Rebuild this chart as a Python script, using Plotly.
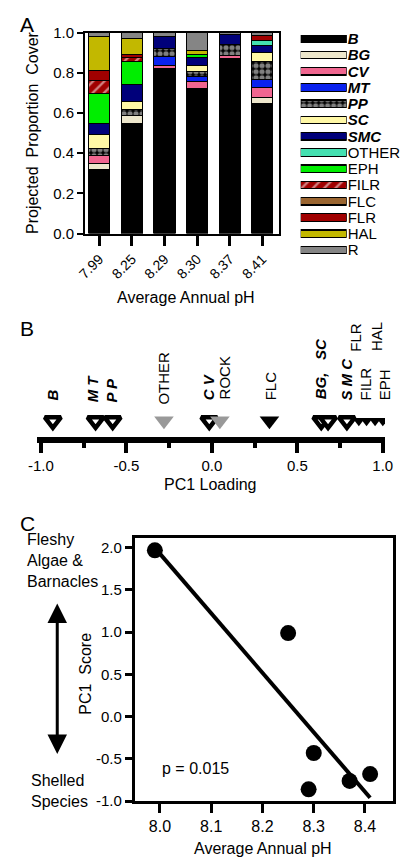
import plotly.graph_objects as go
import numpy as np

W, H = 408, 858
def px(x):
    return x / W
def py(y):
    return 1 - y / H

FONT = "Liberation Sans, Arial, Helvetica, sans-serif"

# ---------------- Panel A data ----------------
ph_labels = ["7.99", "8.25", "8.29", "8.30", "8.37", "8.41"]
species = ["B", "BG", "CV", "MT", "PP", "SC", "SMC", "OTHER", "EPH", "FILR", "FLC", "FLR", "HAL", "R"]
italic_species = ["B", "BG", "CV", "MT", "PP", "SC", "SMC"]

cover_B = [0.32, 0.55, 0.82, 0.72, 0.87, 0.65]
cover_BG = [0.03, 0.04, None, None, None, 0.026]
cover_CV = [0.04, None, 0.015, 0.038, 0.015, 0.051]
cover_MT = [None, None, 0.045, 0.022, None, 0.041]
cover_PP = [0.035, 0.03, 0.04, 0.027, 0.055, 0.09]
cover_SC = [0.07, 0.04, None, 0.031, None, 0.044]
cover_SMC = [0.055, 0.08, 0.06, 0.037, 0.05, 0.034]
cover_OTHER = [None, None, None, None, None, 0.024]
cover_EPH = [0.145, 0.115, None, 0.015, None, None]
cover_FILR = [0.065, 0.02, None, None, None, None]
cover_FLC = [None, None, None, None, None, None]
cover_FLR = [0.05, 0.015, None, None, None, 0.025]
cover_HAL = [0.17, 0.08, None, 0.02, None, None]
cover_R = [0.02, 0.03, 0.02, 0.09, 0.01, 0.015]

cover = {
    "B": cover_B, "BG": cover_BG, "CV": cover_CV, "MT": cover_MT, "PP": cover_PP,
    "SC": cover_SC, "SMC": cover_SMC, "OTHER": cover_OTHER, "EPH": cover_EPH,
    "FILR": cover_FILR, "FLC": cover_FLC, "FLR": cover_FLR, "HAL": cover_HAL, "R": cover_R,
}

# ---------------- Panel B data ----------------
load_open_names = ["B", "MT", "PP", "CV", "BG", "SC", "SMC"]
load_open_vals = [-0.93, -0.68, -0.58, -0.015, 0.64, 0.68, 0.79]
load_gray_names = ["OTHER", "ROCK"]
load_gray_vals = [-0.28, 0.047]
load_black_names = ["FLC"]
load_black_vals = [0.337]
load_small_names = ["FLR", "FILR", "HAL", "EPH"]
load_small_vals = [0.86, 0.905, 0.955, 1.0]

# ---------------- Panel C data ----------------
ph_values = [7.99, 8.25, 8.29, 8.30, 8.37, 8.41]
pc1_scores = [1.97, 0.99, -0.86, -0.43, -0.76, -0.68]

# ---------------- styles ----------------
style = {
    "B": dict(color="#000000"),
    "BG": dict(color="#ede7cc"),
    "CV": dict(color="#f06690"),
    "MT": dict(color="#0a22ee"),
    "PP": dict(color="#000000", pattern=dict(shape=".", fgcolor="white", bgcolor="black", size=6, solidity=0.6)),
    "SC": dict(color="#fff8a6"),
    "SMC": dict(color="#00007a"),
    "OTHER": dict(color="#44e0b0"),
    "EPH": dict(color="#00ee00"),
    "FILR": dict(color="#a00000", pattern=dict(shape="/", fgcolor="white", bgcolor="#a00000", size=8, solidity=0.3)),
    "FLC": dict(color="#9a6530"),
    "FLR": dict(color="#a00000"),
    "HAL": dict(color="#c2b800"),
    "R": dict(color="#858585"),
}

fig = go.Figure()

site_idx = list(range(len(ph_labels)))
for name in species:
    st = style[name]
    marker = dict(color=st["color"], line=dict(color="black", width=1))
    if "pattern" in st:
        marker["pattern"] = st["pattern"]
    fig.add_trace(go.Bar(x=site_idx, y=cover[name], width=0.65, marker=marker,
                         xaxis="x", yaxis="y", showlegend=False, name=name))

# legend drawn as a bar chart of swatches
leg_colors = [style[s]["color"] for s in species]
leg_shapes = [style[s].get("pattern", {}).get("shape", "") for s in species]
leg_fg = [style[s].get("pattern", {}).get("fgcolor", "black") for s in species]
leg_bg = [style[s].get("pattern", {}).get("bgcolor", style[s]["color"]) for s in species]
leg_size = [style[s].get("pattern", {}).get("size", 8) for s in species]
leg_sol = [style[s].get("pattern", {}).get("solidity", 0.3) for s in species]
fig.add_trace(go.Bar(
    orientation="h", y=list(range(len(species))), x=[1] * len(species), width=0.46,
    marker=dict(color=leg_colors, line=dict(color="black", width=1.2),
                pattern=dict(shape=leg_shapes, fgcolor=leg_fg, bgcolor=leg_bg, size=leg_size, solidity=leg_sol)),
    xaxis="x2", yaxis="y2", showlegend=False))

# Panel B triangles
fig.add_trace(go.Scatter(x=load_open_vals, y=[0] * len(load_open_vals), mode="markers",
                         marker=dict(symbol="triangle-down", size=14, color="white",
                                     line=dict(color="black", width=4.5)),
                         xaxis="x3", yaxis="y3", showlegend=False))
fig.add_trace(go.Scatter(x=load_gray_vals, y=[0] * len(load_gray_vals), mode="markers",
                         marker=dict(symbol="triangle-down", size=17, color="#999999", line=dict(width=0)),
                         xaxis="x3", yaxis="y3", showlegend=False))
fig.add_trace(go.Scatter(x=load_black_vals, y=[0] * len(load_black_vals), mode="markers",
                         marker=dict(symbol="triangle-down", size=17, color="black", line=dict(width=0)),
                         xaxis="x3", yaxis="y3", showlegend=False))
fig.add_trace(go.Scatter(x=load_small_vals, y=[0] * len(load_small_vals), mode="markers",
                         marker=dict(symbol="triangle-down", size=11, color="black", line=dict(width=0)),
                         xaxis="x3", yaxis="y3", showlegend=False))

# Panel C scatter + fit
slope, intercept = np.polyfit(ph_values, pc1_scores, 1)
xfit = np.array([min(ph_values), max(ph_values)])
fig.add_trace(go.Scatter(x=xfit, y=slope * xfit + intercept, mode="lines",
                         line=dict(color="black", width=4), xaxis="x4", yaxis="y4", showlegend=False))
fig.add_trace(go.Scatter(x=ph_values, y=pc1_scores, mode="markers",
                         marker=dict(size=16, color="black"), xaxis="x4", yaxis="y4", showlegend=False))

tickfont = dict(family=FONT, size=15, color="black")

fig.update_layout(
    width=W, height=H, autosize=False,
    margin=dict(l=0, r=0, t=0, b=0),
    paper_bgcolor="white", plot_bgcolor="white",
    barmode="stack",
    font=dict(family=FONT, size=15, color="black"),
    xaxis=dict(domain=[px(71), px(273)], range=[-0.44, 5.5], anchor="y",
               showline=True, linewidth=2, linecolor="black", mirror=True,
               tickvals=site_idx, ticktext=ph_labels, tickangle=-45,
               ticks="outside", ticklen=10, tickwidth=3, tickcolor="black",
               tickfont=dict(family=FONT, size=14, color="black"),
               showgrid=False, zeroline=False),
    yaxis=dict(domain=[py(221), py(16)], range=[0, 1], anchor="x",
               showline=True, linewidth=2, linecolor="black", mirror=True,
               tickvals=[0, 0.2, 0.4, 0.6, 0.8, 1.0],
               ticktext=["0.0", "0.2", "0.4", "0.6", "0.8", "1.0"],
               ticks="outside", ticklen=6, tickwidth=2, tickcolor="black",
               tickfont=tickfont, showgrid=False, zeroline=False),
    xaxis2=dict(domain=[px(296), px(344)], range=[0, 1], anchor="y2", visible=False),
    yaxis2=dict(domain=[py(246), py(14)], range=[13.5, -0.5], anchor="x2", side="right",
                showline=False, showgrid=False, zeroline=False, ticks="",
                tickvals=list(range(len(species))),
                ticktext=[("<b><i>%s</i></b>" % s) if s in italic_species else s for s in species],
                tickfont=dict(family=FONT, size=15, color="black"), ticklabelstandoff=0),
    xaxis3=dict(domain=[px(21), px(384)], range=[-1.022, 1.013], anchor="y3",
                showline=True, linewidth=6, linecolor="black",
                tickvals=[-1, -0.5, 0, 0.5, 1], ticktext=["-1.0", "-0.5", "0.0", "0.5", "1.0"],
                ticks="outside", ticklen=10, tickwidth=4, tickcolor="black",
                minor=dict(tickvals=[-0.75, -0.25, 0.25, 0.75], ticks="outside", ticklen=5,
                           tickwidth=4, tickcolor="black", showgrid=False),
                tickfont=tickfont, showgrid=False, zeroline=False),
    yaxis3=dict(domain=[py(428), py(396)], range=[-1, 1], anchor="x3", visible=False),
    xaxis4=dict(domain=[px(123), px(392)], range=[7.951, 8.454], anchor="y4",
                showline=True, linewidth=3, linecolor="black", mirror=True,
                tickvals=[8.0, 8.1, 8.2, 8.3, 8.4], ticktext=["8.0", "8.1", "8.2", "8.3", "8.4"],
                ticks="outside", ticklen=9, tickwidth=3, tickcolor="black",
                tickfont=dict(family=FONT, size=16, color="black"),
                showgrid=False, zeroline=False),
    yaxis4=dict(domain=[py(800), py(532)], range=[-1.0, 2.11], anchor="x4",
                showline=True, linewidth=3, linecolor="black", mirror=True,
                tickvals=[-1.0, -0.5, 0, 0.5, 1.0, 1.5, 2.0],
                ticktext=["-1.0", "-0.5", "0.0", "0.5", "1.0", "1.5", "2.0"],
                ticks="outside", ticklen=7, tickwidth=3, tickcolor="black",
                tickfont=tickfont, showgrid=False, zeroline=False),
)

ann = []
def text(x, y, t, size=16, xanchor="center", yanchor="middle", angle=0, align="center", xref="paper", yref="paper"):
    ann.append(dict(x=x, y=y, xref=xref, yref=yref, text=t, showarrow=False,
                    xanchor=xanchor, yanchor=yanchor, textangle=angle, align=align,
                    font=dict(family=FONT, size=size, color="black")))

# panel letters
text(px(1), py(8), "A", size=21, xanchor="left")
text(px(1), py(318), "B", size=21, xanchor="left")
text(px(1), py(517), "C", size=21, xanchor="left")

# Panel A titles
nb = "\u00a0"
text(px(16), py(118), "Projected" + nb * 2 + "Proportion" + nb * 2 + "Cover", size=16, angle=-90)
text(px(176), py(286), "Average Annual pH", size=16)

# Panel B titles and labels
text(px(202), py(477), "PC1 Loading", size=16)
bi = lambda s: "<b><i>%s</i></b>" % s
labels_B = [
    (bi("B"), -0.93, 393, 0), (bi("M T"), -0.70, 395, 0), (bi("P P"), -0.585, 395, 0),
    ("OTHER", -0.28, 397, 0), (bi("C V"), -0.02, 393, 0), ("ROCK", 0.075, 392, 0),
    ("FLC", 0.344, 393, 0), (bi("BG," + nb * 3 + "SC"), 0.636, 392, 0),
    (bi("S M C"), 0.79, 393, 0), ("FLR", 0.843, 343, 0), ("FILR", 0.9, 393, 0),
    ("HAL", 0.962, 343, 0), ("EPH", 1.01, 393, 0),
]
for t, xv, ybot, xs in labels_B:
    ann.append(dict(x=xv, y=py(ybot), xref="x3", yref="paper", text=t, showarrow=False,
                    xanchor="center", yanchor="bottom", textangle=-90, xshift=xs,
                    font=dict(family=FONT, size=15, color="black")))

# Panel C titles
text(px(257), py(848), "Average Annual pH", size=16)
text(px(72), py(670), "PC1" + nb * 2 + "Score", size=16, angle=-90)
text(px(186), py(767), "p = 0.015", size=16)
text(px(8), py(554), "Fleshy<br>Algae &<br>Barnacles", size=16, xanchor="left", align="left")
text(px(12), py(790), "Shelled<br>Species", size=16, xanchor="left", align="left")

# double-headed arrow
ann.append(dict(x=px(42), y=py(752), xref="paper", yref="paper", ax=0, ay=-152, axref="pixel", ayref="pixel",
                text="", showarrow=True, arrowhead=2, startarrowhead=2, arrowside="end+start",
                arrowsize=1.3, startarrowsize=1.3, arrowwidth=3, arrowcolor="black"))

fig.update_layout(annotations=ann)
fig.write_html("out.html")
